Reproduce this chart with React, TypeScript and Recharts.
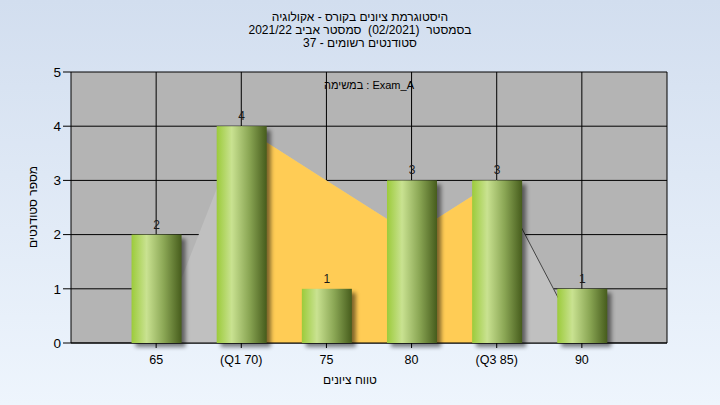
import React from 'react';
import { ComposedChart, Bar, Area, Line, XAxis, YAxis, CartesianGrid, ReferenceLine } from 'recharts';

const titleLines = [
  'היסטוגרמת ציונים בקורס - אקולוגיה',
  'בסמסטר  (02/2021)  סמסטר אביב 2021/22',
  'סטודנטים רשומים - 37',
];
const taskLabel = 'במשימה : Exam_A';
const xAxisTitle = 'טווח ציונים';
const yAxisTitle = 'מספר סטודנטים';

const categories = ['65', '(Q1 70)', '75', '80', '(Q3 85)', '90'];
const positions = [1, 2, 3, 4, 5, 6];
const counts = [2, 4, 1, 3, 3, 1];
const curve = [0, 4, 3, 2, 3, 0];
const quartileBand = [null, 4, 3, 2, 3, null];
const tailLine = [null, null, null, null, 3, 0];
const yTicks = [0, 1, 2, 3, 4, 5];

const data = positions.map((p, i) => ({
  pos: p,
  count: counts[i],
  curve: curve[i],
  band: quartileBand[i],
  tail: tailLine[i],
}));

const FONT = '"Liberation Sans", Arial, sans-serif';

const BarShape = (props: any) => {
  const { x, y, width, height } = props;
  if (height <= 0) return null;
  return (
    <g>
      <rect x={x + 4} y={y + 4} width={width} height={height} fill="#000" opacity={0.5} filter="url(#barShadow)" />
      <rect x={x} y={y} width={width} height={height} fill="url(#barGrad)" />
    </g>
  );
};

export default function App() {
  const anyProps: any = {};
  return (
    <div
      style={{
        position: 'absolute',
        left: 0,
        top: 0,
        width: 720,
        height: 405,
        background: 'linear-gradient(to bottom, #d2deef 0%, #eef5fd 100%)',
        fontFamily: FONT,
        overflow: 'hidden',
      }}
    >
      <div style={{ position: 'absolute', left: 0, top: 11, width: 720, textAlign: 'center', direction: 'rtl', fontSize: 12, lineHeight: '13px', color: '#000', whiteSpace: 'pre' }}>
        {titleLines.map((t, i) => (
          <div key={i}>{t}</div>
        ))}
      </div>
      <ComposedChart width={720} height={405} data={data} margin={{ top: 72, right: 0, bottom: 32, left: 0 }}>
        <defs>
          <linearGradient id="barGrad" x1="0" y1="0" x2="1" y2="0">
            <stop offset="0%" stopColor="#9ccb3b" />
            <stop offset="30%" stopColor="#c9e291" />
            <stop offset="65%" stopColor="#8aa654" />
            <stop offset="100%" stopColor="#465c1c" />
          </linearGradient>
          <filter id="barShadow" x="-20%" y="-20%" width="140%" height="140%">
            <feGaussianBlur stdDeviation="2" />
          </filter>
        </defs>
        <CartesianGrid {...anyProps} zIndex={-100} stroke="none" horizontal={false} vertical={false} fill="#b4b4b4" fillOpacity={1} />
        {positions.map((p) => (
          <ReferenceLine {...anyProps} key={'v' + p} zIndex={-50} yAxisId="l" x={p} stroke="#000" strokeWidth={1} ifOverflow="hidden" />
        ))}
        {yTicks.map((t) => (
          <ReferenceLine {...anyProps} key={'h' + t} zIndex={-50} yAxisId="l" y={t} stroke="#000" strokeWidth={1} />
        ))}
        <XAxis
          dataKey="pos"
          type="number"
          domain={[0, 7]}
          ticks={positions}
          interval={0}
          tickFormatter={(v: number) => categories[v - 1]}
          tick={{ fill: '#000', fontSize: 12.5, fontFamily: FONT }}
          tickSize={5}
          tickMargin={7}
          height={30}
          stroke="#000"
          tickLine={{ stroke: '#000' }}
        />
        <YAxis
          yAxisId="l"
          domain={[0, 5]}
          ticks={yTicks}
          interval={0}
          width={71}
          tick={{ fill: '#000', fontSize: 13.5, fontFamily: FONT }}
          tickSize={8}
          tickMargin={2}
          stroke="#000"
          tickLine={{ stroke: '#000' }}
        />
        <YAxis
          yAxisId="r"
          orientation="right"
          domain={[0, 5]}
          ticks={yTicks}
          interval={0}
          width={53}
          tick={{ fill: '#000', fontSize: 13.5, fontFamily: FONT }}
          tickSize={8}
          tickMargin={2}
          stroke="#000"
          tickLine={{ stroke: '#000' }}
        />
        <Area {...anyProps} zIndex={400} yAxisId="l" dataKey="curve" type="linear" fill="#c0c0c0" fillOpacity={1} stroke="none" isAnimationActive={false} />
        <Area {...anyProps} zIndex={410} yAxisId="l" dataKey="band" type="linear" fill="#ffcc55" fillOpacity={1} stroke="none" isAnimationActive={false} />
        <Line {...anyProps} zIndex={420} yAxisId="l" dataKey="tail" type="linear" stroke="#444" strokeWidth={1} dot={false} isAnimationActive={false} />
        <Bar
          {...anyProps}
          zIndex={600}
          yAxisId="l"
          dataKey="count"
          barSize={50}
          shape={<BarShape />}
          isAnimationActive={false}
          label={{ position: 'top', fill: '#1a1a1a', fontSize: 12, fontFamily: FONT, offset: 6 }}
        />
      </ComposedChart>
      <div style={{ position: 'absolute', left: 269, width: 200, top: 79, textAlign: 'center', fontSize: 11, color: '#000' }}>{taskLabel}</div>
      <div style={{ position: 'absolute', left: 250, width: 200, top: 373, textAlign: 'center', fontSize: 12, color: '#000', direction: 'rtl' }}>{xAxisTitle}</div>
      <div
        style={{
          position: 'absolute',
          left: 33,
          top: 207,
          fontSize: 12,
          color: '#000',
          whiteSpace: 'nowrap',
          transform: 'translate(-50%, -50%) rotate(-90deg)',
          direction: 'rtl',
        }}
      >
        {yAxisTitle}
      </div>
    </div>
  );
}
